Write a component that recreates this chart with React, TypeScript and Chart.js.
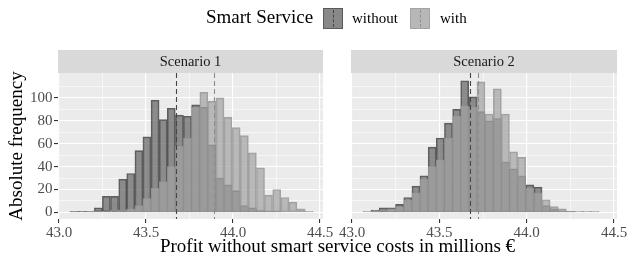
import React, { useEffect, useRef } from 'react';
import { Chart, registerables } from 'chart.js';

Chart.register(...registerables);

// ---- data ----
const BIN_CENTERS = [
  43.086, 43.133, 43.179, 43.226, 43.272, 43.319, 43.366, 43.412, 43.459, 43.505,
  43.552, 43.599, 43.645, 43.692, 43.738, 43.785, 43.832, 43.878, 43.925, 43.971,
  44.018, 44.065, 44.111, 44.158, 44.204, 44.251, 44.298, 44.344, 44.391, 44.437,
];
const S1_WITHOUT = [1, 1, 1, 4, 14, 14, 29, 34, 54, 66, 98, 81, 91, 85, 84, 94, 92, 59, 30, 24, 19, 6, 4, 2, 1, 1, 0, 0, 0, 0];
const S1_WITH = [1, 0, 1, 1, 1, 2, 2, 3, 6, 12, 21, 27, 40, 58, 65, 92, 105, 97, 100, 83, 74, 67, 52, 39, 15, 20, 13, 9, 3, 1];
const S2_WITHOUT = [0, 2, 4, 4, 7, 13, 23, 32, 57, 65, 78, 90, 115, 101, 88, 80, 82, 44, 38, 32, 24, 22, 6, 3, 1, 1, 0, 0, 0, 0];
const S2_WITH = [1, 1, 2, 3, 5, 11, 17, 29, 40, 46, 65, 84, 93, 92, 114, 86, 108, 86, 53, 48, 21, 17, 11, 5, 3, 1, 1, 1, 1, 0];
const MEAN_WITHOUT = [43.672, 43.677];
const MEAN_WITH = [43.889, 43.723];
const PANEL_LABELS = ['Scenario 1', 'Scenario 2'];
const GROUP_LABELS = ['without', 'with'];
const X_MAJOR = [43.0, 43.5, 44.0, 44.5];
const X_MINOR = [43.25, 43.75, 44.25];
const Y_MAJOR = [0, 20, 40, 60, 80, 100];
const Y_MINOR = [10, 30, 50, 70, 90, 110];

const FONT = "'Liberation Serif', 'Times New Roman', serif";
const TICK_SIZE = 15;
const STRIP_SIZE = 14.5;
const TITLE_SIZE = 19;
const FILL_WITHOUT = 'rgba(98,98,98,0.7)';
const FILL_WITH = 'rgba(162,162,162,0.7)';
const LINE_WITHOUT = 'rgba(60,60,60,0.8)';
const LINE_WITH = 'rgba(150,150,150,0.85)';

const decoPlugin = {
  id: 'deco',
  beforeDraw(chart: any, _args: any, opts: any) {
    const { ctx, chartArea: a } = chart;
    ctx.save();
    ctx.fillStyle = '#EBEBEB';
    ctx.fillRect(a.left, a.top, a.right - a.left, a.bottom - a.top);
    ctx.fillStyle = '#D9D9D9';
    ctx.fillRect(a.left, a.top - 23, a.right - a.left, 23);
    ctx.fillStyle = '#1A1A1A';
    ctx.font = `${STRIP_SIZE}px ${FONT}`;
    ctx.textAlign = 'center';
    ctx.textBaseline = 'middle';
    ctx.fillText(opts.label, (a.left + a.right) / 2, a.top - 11);
    ctx.restore();
  },
  afterDatasetsDraw(chart: any, _args: any, opts: any) {
    const { ctx, chartArea: a } = chart;
    const xs = chart.scales.x;
    ctx.save();
    ctx.lineWidth = 1.1;
    ctx.setLineDash([5, 3]);
    const lines = [
      [opts.meanWithout, '#454545'],
      [opts.meanWith, '#8e8e8e'],
    ];
    for (const [v, c] of lines) {
      const px = Math.round(xs.getPixelForValue(v)) + 0.5;
      ctx.strokeStyle = c;
      ctx.beginPath();
      ctx.moveTo(px, a.top);
      ctx.lineTo(px, a.bottom);
      ctx.stroke();
    }
    ctx.restore();
  },
};

function panelConfig(p: number, yWidth: number, padRight: number): any {
  const wo = p === 0 ? S1_WITHOUT : S2_WITHOUT;
  const wi = p === 0 ? S1_WITH : S2_WITH;
  const showY = p === 0;
  const common = {
    borderWidth: 1,
    borderSkipped: false,
    barPercentage: 1,
    categoryPercentage: 1,
    grouped: false,
  };
  return {
    type: 'bar',
    data: {
      datasets: [
        {
          ...common,
          order: 2,
          label: GROUP_LABELS[0],
          data: BIN_CENTERS.map((x, i) => ({ x, y: wo[i] > 0 ? wo[i] : null })),
          backgroundColor: FILL_WITHOUT,
          borderColor: LINE_WITHOUT,
        },
        {
          ...common,
          order: 1,
          label: GROUP_LABELS[1],
          data: BIN_CENTERS.map((x, i) => ({ x, y: wi[i] > 0 ? wi[i] : null })),
          backgroundColor: FILL_WITH,
          borderColor: LINE_WITH,
        },
      ],
    },
    options: {
      animation: false,
      responsive: false,
      maintainAspectRatio: false,
      layout: { padding: { left: 0, right: padRight, top: 73, bottom: 0 } },
      plugins: {
        legend: { display: false },
        tooltip: { enabled: false },
        deco: { label: PANEL_LABELS[p], meanWithout: MEAN_WITHOUT[p], meanWith: MEAN_WITH[p] },
      },
      scales: {
        x: {
          type: 'linear',
          min: 42.994,
          max: 44.517,
          bounds: 'data',
          offset: false,
          afterBuildTicks: (s: any) => {
            s.ticks = [...X_MAJOR, ...X_MINOR].sort((a, b) => a - b).map((v) => ({ value: v }));
          },
          afterFit: (s: any) => {
            s.height = 41;
            s.paddingLeft = 0;
            s.paddingRight = 0;
          },
          border: { display: false },
          grid: {
            offset: false,
            color: '#FFFFFF',
            lineWidth: (c: any) => (X_MAJOR.includes(c.tick?.value) ? 1.1 : 0.55),
            tickColor: (c: any) => (X_MAJOR.includes(c.tick?.value) ? '#333333' : 'rgba(0,0,0,0)'),
            tickLength: 4,
            tickWidth: 1.1,
          },
          ticks: {
            autoSkip: false,
            maxRotation: 0,
            padding: 1,
            color: '#4D4D4D',
            font: { family: FONT, size: TICK_SIZE },
            callback: (v: any) => (X_MAJOR.includes(v) ? Number(v).toFixed(1) : ''),
          },
        },
        y: {
          type: 'linear',
          min: -5.8,
          max: 121.8,
          bounds: 'data',
          afterBuildTicks: (s: any) => {
            s.ticks = [...Y_MAJOR, ...Y_MINOR].sort((a, b) => a - b).map((v) => ({ value: v }));
          },
          afterFit: (s: any) => {
            s.width = yWidth;
            s.paddingTop = 0;
            s.paddingBottom = 0;
          },
          border: { display: false },
          grid: {
            color: '#FFFFFF',
            lineWidth: (c: any) => (Y_MAJOR.includes(c.tick?.value) ? 1.1 : 0.55),
            tickColor: (c: any) => (showY && Y_MAJOR.includes(c.tick?.value) ? '#333333' : 'rgba(0,0,0,0)'),
            drawTicks: showY,
            tickLength: 4,
            tickWidth: 1.1,
          },
          ticks: {
            display: showY,
            autoSkip: false,
            padding: 1.5,
            color: '#4D4D4D',
            font: { family: FONT, size: TICK_SIZE },
            callback: (v: any) => (Y_MAJOR.includes(v) ? String(v) : ''),
          },
        },
      },
    },
    plugins: [decoPlugin],
  };
}

function Panel(props: { p: number; left: number; width: number; yWidth: number; padRight: number }) {
  const ref = useRef<HTMLCanvasElement>(null);
  useEffect(() => {
    if (!ref.current) return;
    const chart = new Chart(ref.current, panelConfig(props.p, props.yWidth, props.padRight));
    return () => chart.destroy();
  }, []);
  return (
    <canvas
      ref={ref}
      width={props.width}
      height={260}
      style={{ position: 'absolute', left: props.left, top: 0, width: props.width, height: 260 }}
    />
  );
}

function Key(props: { fill: string; line: string; dash: string; left: number }) {
  return (
    <div
      style={{
        position: 'absolute',
        left: props.left,
        top: 8,
        width: 20,
        height: 21,
        boxSizing: 'border-box',
        background: props.fill,
        border: `1px solid ${props.line}`,
      }}
    >
      <div
        style={{
          position: 'absolute',
          left: 8.5,
          top: 1,
          height: 17,
          width: 0,
          borderLeft: `1px dashed ${props.dash}`,
        }}
      />
    </div>
  );
}

export default function App() {
  const text: React.CSSProperties = {
    position: 'absolute',
    fontFamily: FONT,
    whiteSpace: 'nowrap',
    color: '#000',
  };
  return (
    <div
      style={{
        position: 'fixed',
        left: 0,
        top: 0,
        width: 627,
        height: 260,
        background: '#FFFFFF',
        overflow: 'hidden',
      }}
    >
      <Panel p={0} left={0} width={340} yWidth={58} padRight={17} />
      <Panel p={1} left={335} width={292} yWidth={16} padRight={10} />

      {/* legend */}
      <div style={{ ...text, left: 206, top: 6, fontSize: TITLE_SIZE, lineHeight: '22px' }}>Smart Service</div>
      <Key left={323} fill="#898989" line="#5A5A5A" dash="#444444" />
      <div style={{ ...text, left: 352, top: 8, fontSize: TICK_SIZE, lineHeight: '20px', color: '#000' }}>
        {GROUP_LABELS[0]}
      </div>
      <Key left={410} fill="#B7B7B7" line="#A3A3A3" dash="#8E8E8E" />
      <div style={{ ...text, left: 440, top: 8, fontSize: TICK_SIZE, lineHeight: '20px', color: '#000' }}>
        {GROUP_LABELS[1]}
      </div>

      {/* axis titles */}
      <div
        style={{
          ...text,
          left: 58,
          width: 559,
          top: 236,
          textAlign: 'center',
          fontSize: TITLE_SIZE,
          lineHeight: '20px',
        }}
      >
        Profit without smart service costs in millions €
      </div>
      <div
        style={{
          ...text,
          left: 16 - 100,
          top: 146 - 10,
          width: 200,
          height: 20,
          textAlign: 'center',
          fontSize: TITLE_SIZE,
          lineHeight: '20px',
          transform: 'rotate(-90deg)',
          transformOrigin: '100px 10px',
        }}
      >
        Absolute frequency
      </div>
    </div>
  );
}
